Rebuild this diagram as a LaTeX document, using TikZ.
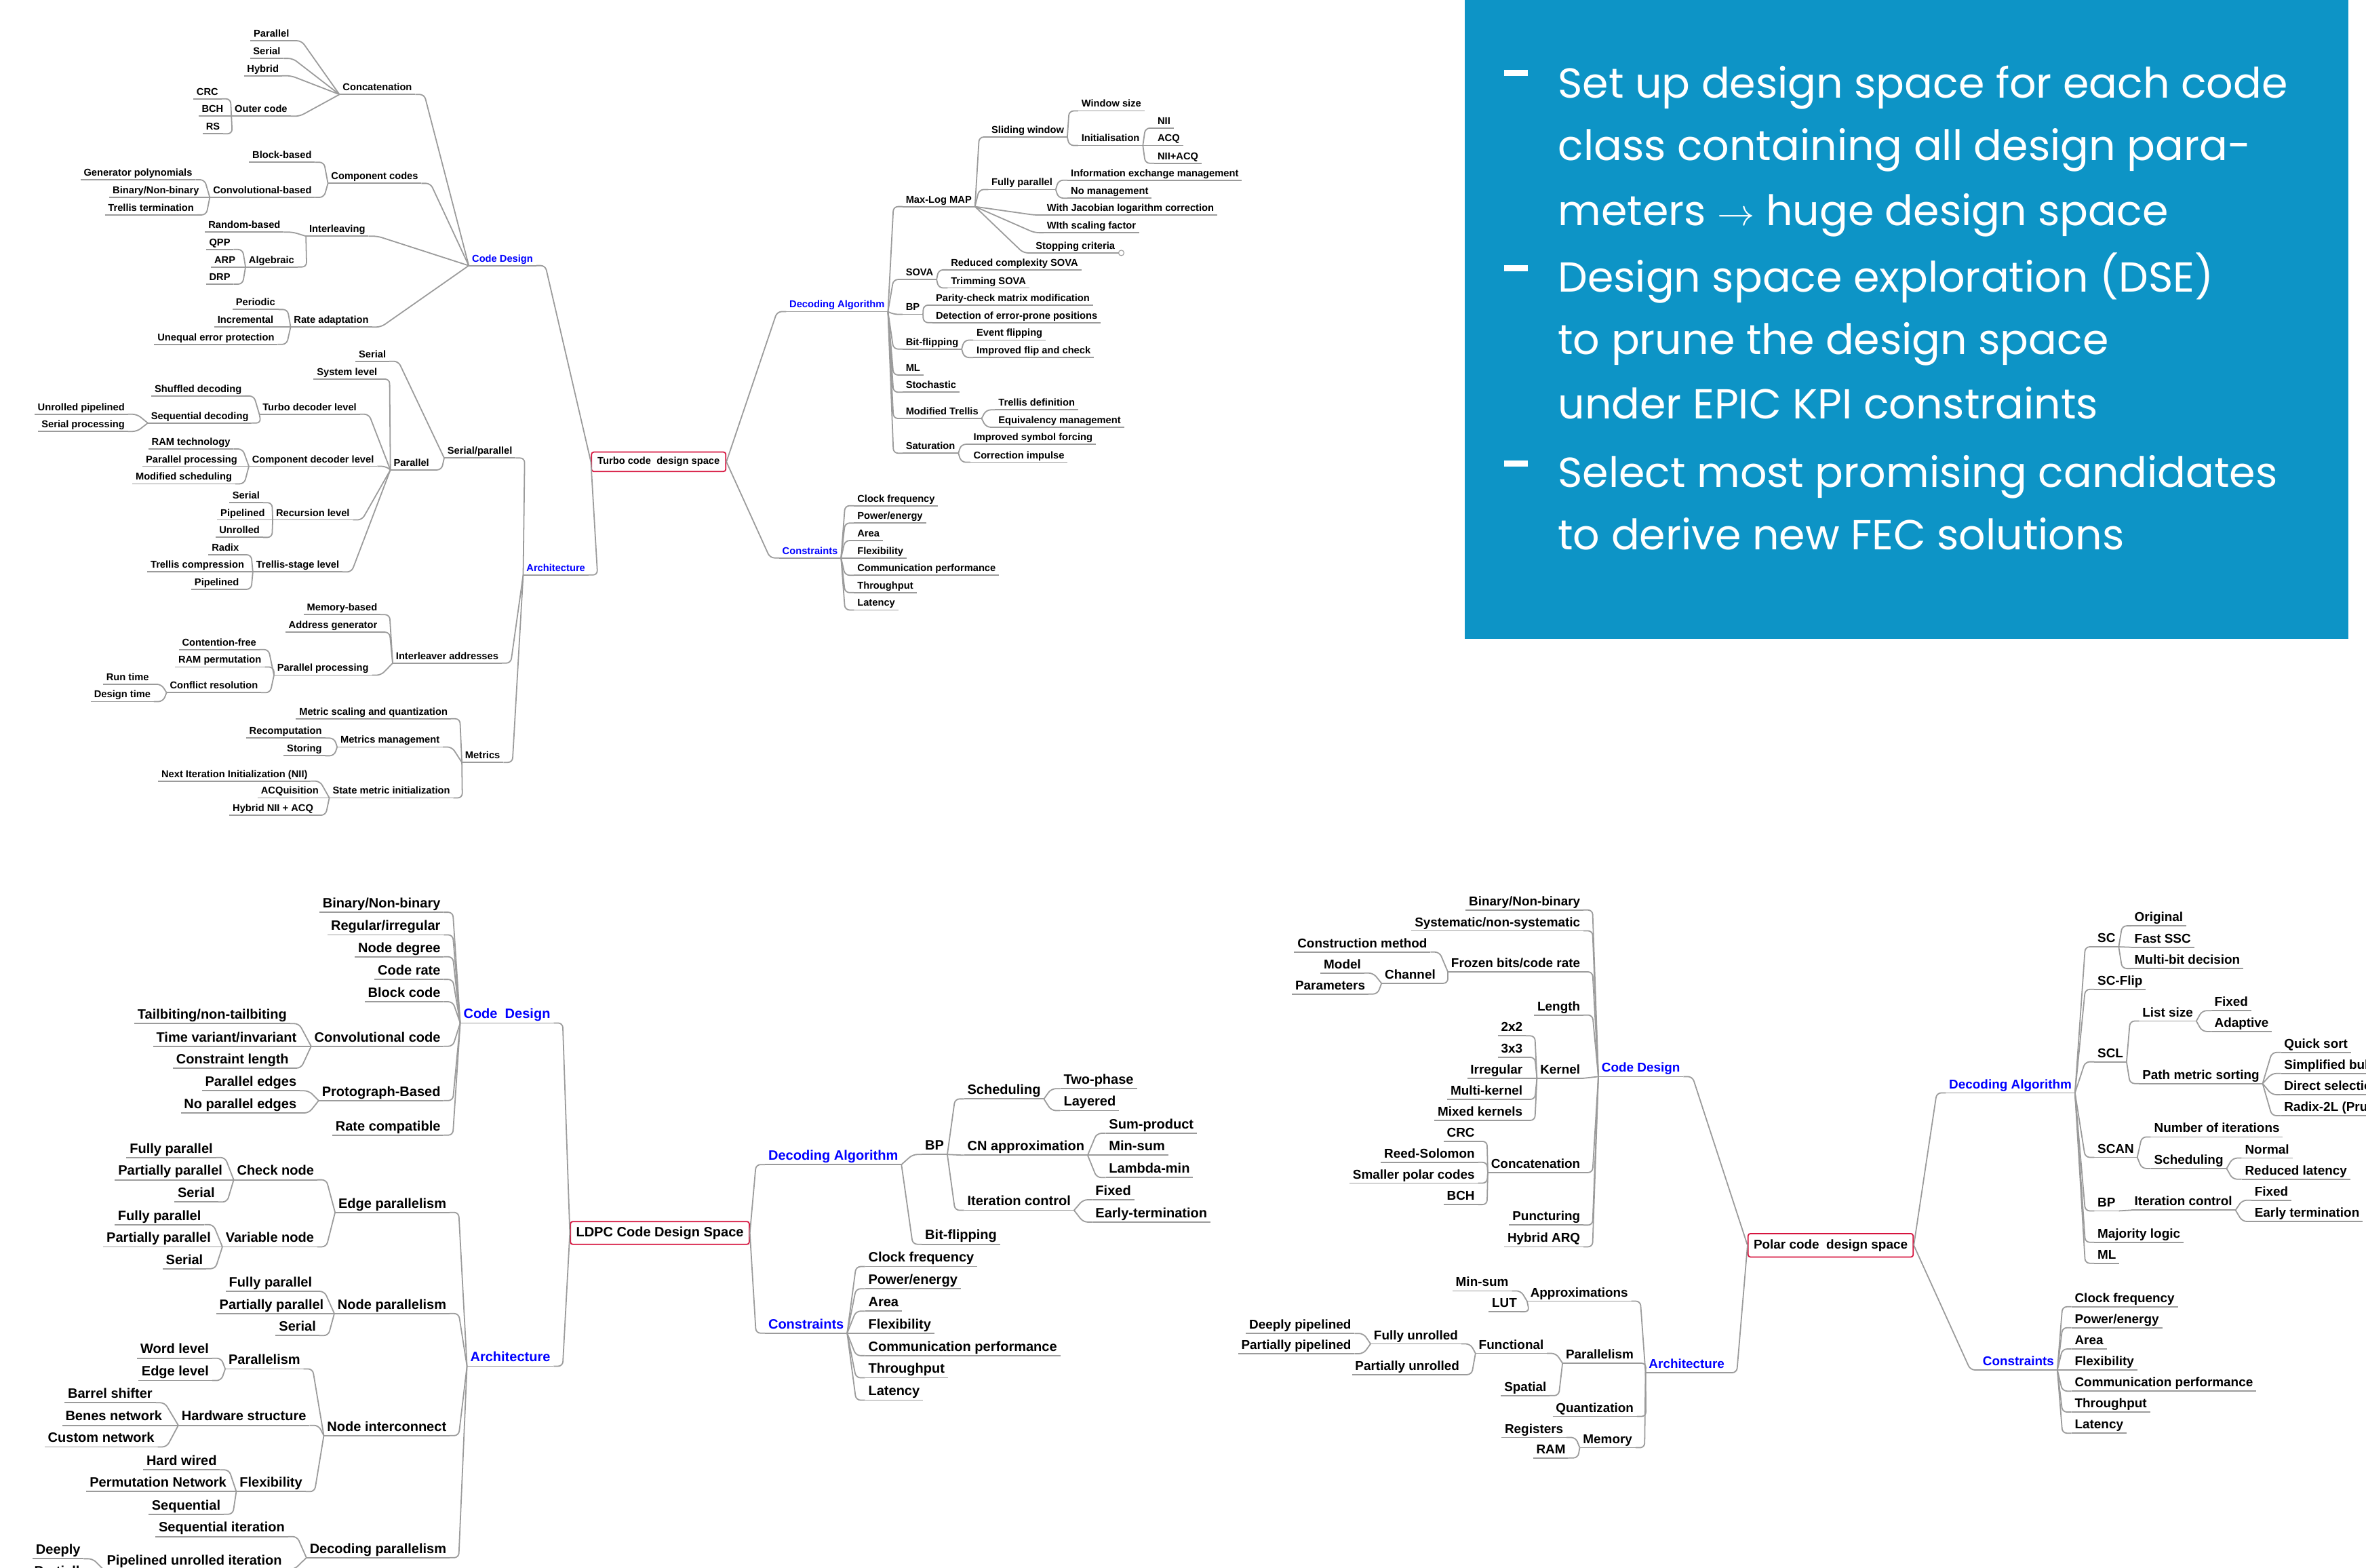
\documentclass[tikz,border=0pt]{standalone}
\usepackage{fontspec}
\setmainfont{Liberation Sans}
\newfontfamily\boxfont{Poppins}
\usetikzlibrary{positioning,calc}
\definecolor{linegray}{RGB}{155,155,155}
\definecolor{rootred}{RGB}{214,20,62}
\definecolor{catblue}{RGB}{0,0,255}
\definecolor{boxblue}{RGB}{13,148,198}

\begin{document}
\begin{tikzpicture}[x=1pt, y=-1pt,
  mm/.style={inner xsep=2pt, inner ysep=0.8pt, append after command={(\tikzlastnode.south west) edge[uline] (\tikzlastnode.south east)}},
  uline/.style={draw=linegray, line width=0.8pt},
  tf/.style={font=\bfseries\fontsize{6.6}{7}\selectfont},
  lf/.style={font=\bfseries\fontsize{9}{10}\selectfont},
  pf/.style={font=\bfseries\fontsize{8.5}{9.5}\selectfont},
  tt/.style={mm, tf, text height=4.8pt, text depth=1.5pt},
  ll/.style={mm, lf, text height=6.6pt, text depth=2pt},
  pp/.style={mm, pf, text height=6.2pt, text depth=1.9pt},
  lt/.style={anchor=south east},
  rt/.style={anchor=south west},
  cat/.style={text=catblue},
  root/.style={draw=rootred, fill=white, rounded corners=1.5pt, line width=0.8pt, inner xsep=2pt},
  lb/.style={draw=linegray, line width=0.8pt, rounded corners=3pt, to path={-- ($(\tikztotarget)+(6pt,0)$) -- (\tikztotarget)}},
  rb/.style={draw=linegray, line width=0.8pt, rounded corners=3pt, to path={-- ($(\tikztotarget)+(-6pt,0)$) -- (\tikztotarget)}},
  sl/.style={draw=linegray, line width=0.8pt},
  boxtxt/.style={text=white, inner sep=0pt, anchor=base west, font=\boxfont\fontsize{27.8}{33}\selectfont},
]
\useasboundingbox (0,0) rectangle (1568,1039);

% Turbo code design space
\node[root, tf, minimum width=89pt, minimum height=12pt] (tr) at (436.5,306) {Turbo code\ \ design space};
\node[tt, lt, cat] (tcd) at (355.4,176) {Code Design};
\node[tt, lt, cat] (tar) at (390,381) {Architecture};
\node[tt, rt, cat] (tda) at (521,206.5) {Decoding Algorithm};
\node[tt, rt, cat] (tco) at (516.3,369.7) {Constraints};

% Turbo: code design
\node[tt, lt] (tconc) at (275.2,62.6) {Concatenation};
\node[tt, lt] (tpar) at (193.8,27) {Parallel};
\node[tt, lt] (tser) at (188,38.7) {Serial};
\node[tt, lt] (thyb) at (186.9,50.2) {Hybrid};
\node[tt, lt] (tout) at (192.6,77) {Outer code};
\node[tt, lt] (tcrc) at (146.8,65.5) {CRC};
\node[tt, lt] (tbch) at (150.2,77) {BCH};
\node[tt, lt] (trs) at (147.9,88.6) {RS};
\node[tt, lt] (tcomp) at (279.3,121.5) {Component codes};
\node[tt, lt] (tblk) at (208.7,107.5) {Block-based};
\node[tt, lt] (tconv) at (208.7,130.8) {Convolutional-based};
\node[tt, lt] (tgen) at (129.6,119.1) {Generator polynomials};
\node[tt, lt] (tbin) at (134.1,130.8) {Binary/Non-binary};
\node[tt, lt] (tterm) at (130.7,142.4) {Trellis termination};
\node[tt, lt] (tint) at (244.2,156.5) {Interleaving};
\node[tt, lt] (trand) at (188,153.8) {Random-based};
\node[tt, lt] (talg) at (197.2,176.9) {Algebraic};
\node[tt, lt] (tqpp) at (154.8,165.3) {QPP};
\node[tt, lt] (tarp) at (158.2,176.9) {ARP};
\node[tt, lt] (tdrp) at (154.8,188.3) {DRP};
\node[tt, lt] (trate) at (246.5,216.7) {Rate adaptation};
\node[tt, lt] (tper) at (184.6,205.1) {Periodic};
\node[tt, lt] (tinc) at (183.4,216.7) {Incremental};
\node[tt, lt] (tuep) at (184,228.2) {Unequal error protection};

% Turbo: architecture
\node[tt, lt] (tsp) at (341.7,303.5) {Serial/parallel};
\node[tt, lt] (tser2) at (258,239.4) {Serial};
\node[tt, lt] (tpar2) at (286.6,311.4) {Parallel};
\node[tt, lt] (tsys) at (252.2,251.2) {System level};
\node[tt, lt] (ttdl) at (238.5,274.5) {Turbo decoder level};
\node[tt, lt] (tshf) at (162.3,262.4) {Shuffled decoding};
\node[tt, lt] (tseq) at (166.9,280.3) {Sequential decoding};
\node[tt, lt] (tunr) at (84.8,274.5) {Unrolled pipelined};
\node[tt, lt] (tserp) at (84.8,285.9) {Serial processing};
\node[tt, lt] (tcdl) at (250,309) {Component decoder level};
\node[tt, lt] (tram) at (154.8,297.5) {RAM technology};
\node[tt, lt] (tpp) at (159.4,309) {Parallel processing};
\node[tt, lt] (tmod) at (155.9,320.6) {Modified scheduling};
\node[tt, lt] (trec) at (233.9,344.5) {Recursion level};
\node[tt, lt] (trs1) at (174.3,333.1) {Serial};
\node[tt, lt] (trp1) at (177.7,344.5) {Pipelined};
\node[tt, lt] (tru1) at (174.3,356.1) {Unrolled};
\node[tt, lt] (ttsl) at (227,379) {Trellis-stage level};
\node[tt, lt] (trad) at (160.5,367.6) {Radix};
\node[tt, lt] (ttc) at (164,379) {Trellis compression};
\node[tt, lt] (tpip) at (160.5,390.5) {Pipelined};
\node[tt, lt] (tia) at (332.5,439.4) {Interleaver addresses};
\node[tt, lt] (tmem) at (252.2,407.3) {Memory-based};
\node[tt, lt] (tadr) at (252.2,418.9) {Address generator};
\node[tt, lt] (tppr) at (246.5,447.4) {Parallel processing};
\node[tt, lt] (tcf) at (172,430.4) {Contention-free};
\node[tt, lt] (tramp) at (175.4,442) {RAM permutation};
\node[tt, lt] (tcr) at (173.1,459) {Conflict resolution};
\node[tt, lt] (trun) at (100.9,453.4) {Run time};
\node[tt, lt] (tdes) at (102,464.9) {Design time};
\node[tt, lt] (tmet) at (333.6,505.2) {Metrics};
\node[tt, lt] (tmsq) at (298.8,476.3) {Metric scaling and quantization};
\node[tt, lt] (tmm) at (293.5,495) {Metrics management};
\node[tt, lt] (trecp) at (215.5,489.1) {Recomputation};
\node[tt, lt] (tsto) at (215.5,500.8) {Storing};
\node[tt, lt] (tsmi) at (300.4,528.7) {State metric initialization};
\node[tt, lt] (tnii) at (206,517.6) {Next Iteration Initialization (NII)};
\node[tt, lt] (tacq) at (213.3,528.7) {ACQuisition};
\node[tt, lt] (thna) at (209.8,540.2) {Hybrid NII + ACQ};

% Turbo: decoding algorithm
\node[tt, rt] (tml) at (598.1,136.9) {Max-Log MAP};
\node[tt, rt] (tsw) at (654.9,90.8) {Sliding window};
\node[tt, rt] (twin) at (714.5,73.5) {Window size};
\node[tt, rt] (tini) at (714.5,96.4) {Initialisation};
\node[tt, rt] (tnii2) at (765,84.9) {NII};
\node[tt, rt] (tacq2) at (765,96.4) {ACQ};
\node[tt, rt] (tna) at (765,108.2) {NII+ACQ};
\node[tt, rt] (tfp) at (654.9,125.6) {Fully parallel};
\node[tt, rt] (tiem) at (707.5,119.4) {Information exchange management};
\node[tt, rt] (tnom) at (707.5,131.3) {No management};
\node[tt, rt] (tjac) at (691.6,142.5) {With Jacobian logarithm correction};
\node[tt, rt] (tsf) at (691.6,154.2) {WIth scaling factor};
\node[tt, rt] (tstop) at (684.2,167.6) {Stopping criteria};
\node[circle, draw=linegray, line width=0.5pt, inner sep=0pt, minimum size=3.6pt, anchor=west] (tstopm) at (tstop.south east) {};
\node[tt, rt] (tsova) at (598.1,185.2) {SOVA};
\node[tt, rt] (trcs) at (628,178.8) {Reduced complexity SOVA};
\node[tt, rt] (ttrim) at (628,190.8) {Trimming SOVA};
\node[tt, rt] (tbp) at (598.1,208.3) {BP};
\node[tt, rt] (tpcm) at (618,202.2) {Parity-check matrix modification};
\node[tt, rt] (tdet) at (618,213.8) {Detection of error-prone positions};
\node[tt, rt] (tbf) at (598.1,231.3) {Bit-flipping};
\node[tt, rt] (tevt) at (645,225.4) {Event flipping};
\node[tt, rt] (tifc) at (645,236.9) {Improved flip and check};
\node[tt, rt] (tmlx) at (598.1,248.5) {ML};
\node[tt, rt] (tsto2) at (598.1,259.9) {Stochastic};
\node[tt, rt] (tmt) at (598.1,277.3) {Modified Trellis};
\node[tt, rt] (ttd) at (659.5,271.6) {Trellis definition};
\node[tt, rt] (teq) at (659.5,283.1) {Equivalency management};
\node[tt, rt] (tsat) at (598.1,300.3) {Saturation};
\node[tt, rt] (tisf) at (643,294.4) {Improved symbol forcing};
\node[tt, rt] (tci) at (643,306.3) {Correction impulse};

% Turbo: constraints
\node[tt, rt] (tc1) at (566,335.1) {Clock frequency};
\node[tt, rt] (tc2) at (566,346.6) {Power/energy};
\node[tt, rt] (tc3) at (566,358.2) {Area};
\node[tt, rt] (tc4) at (566,369.7) {Flexibility};
\node[tt, rt] (tc5) at (566,381.2) {Communication performance};
\node[tt, rt] (tc6) at (566,392.7) {Throughput};
\node[tt, rt] (tc7) at (566,404.2) {Latency};

% Turbo connections
\path (tr.west) edge[lb] (tcd.south east) edge[lb] (tar.south east);
\path (tr.east) edge[rb] (tda.south west) edge[rb] (tco.south west);
\path (tcd.south west) edge[lb] (tconc.south east) edge[lb] (tcomp.south east) edge[lb] (tint.south east) edge[lb] (trate.south east);
\path (tconc.south west) edge[lb] (tpar.south east) edge[lb] (tser.south east) edge[lb] (thyb.south east) edge[lb] (tout.south east);
\path (tout.south west) edge[lb] (tcrc.south east) edge[sl] (tbch.south east) edge[lb] (trs.south east);
\path (tcomp.south west) edge[lb] (tblk.south east) edge[lb] (tconv.south east);
\path (tconv.south west) edge[lb] (tgen.south east) edge[sl] (tbin.south east) edge[lb] (tterm.south east);
\path (tint.south west) edge[lb] (trand.south east) edge[lb] (talg.south east);
\path (talg.south west) edge[lb] (tqpp.south east) edge[sl] (tarp.south east) edge[lb] (tdrp.south east);
\path (trate.south west) edge[lb] (tper.south east) edge[sl] (tinc.south east) edge[lb] (tuep.south east);
\path (tar.south west) edge[lb] (tsp.south east) edge[lb] (tia.south east) edge[lb] (tmet.south east);
\path (tsp.south west) edge[lb] (tser2.south east) edge[lb] (tpar2.south east);
\path (tpar2.south west) edge[lb] (tsys.south east) edge[lb] (ttdl.south east) edge[lb] (tcdl.south east) edge[lb] (trec.south east) edge[lb] (ttsl.south east);
\path (ttdl.south west) edge[lb] (tshf.south east) edge[lb] (tseq.south east);
\path (tseq.south west) edge[lb] (tunr.south east) edge[lb] (tserp.south east);
\path (tcdl.south west) edge[lb] (tram.south east) edge[sl] (tpp.south east) edge[lb] (tmod.south east);
\path (trec.south west) edge[lb] (trs1.south east) edge[sl] (trp1.south east) edge[lb] (tru1.south east);
\path (ttsl.south west) edge[lb] (trad.south east) edge[sl] (ttc.south east) edge[lb] (tpip.south east);
\path (tia.south west) edge[lb] (tmem.south east) edge[lb] (tadr.south east) edge[lb] (tppr.south east);
\path (tppr.south west) edge[lb] (tcf.south east) edge[lb] (tramp.south east) edge[lb] (tcr.south east);
\path (tcr.south west) edge[lb] (trun.south east) edge[lb] (tdes.south east);
\path (tmet.south west) edge[lb] (tmsq.south east) edge[lb] (tmm.south east) edge[lb] (tsmi.south east);
\path (tmm.south west) edge[lb] (trecp.south east) edge[lb] (tsto.south east);
\path (tsmi.south west) edge[lb] (tnii.south east) edge[sl] (tacq.south east) edge[lb] (thna.south east);
\path (tda.south east) edge[rb] (tml.south west) edge[rb] (tsova.south west) edge[rb] (tbp.south west) edge[rb] (tbf.south west) edge[rb] (tmlx.south west) edge[rb] (tsto2.south west) edge[rb] (tmt.south west) edge[rb] (tsat.south west);
\path (tml.south east) edge[rb] (tsw.south west) edge[rb] (tfp.south west) edge[rb] (tjac.south west) edge[rb] (tsf.south west) edge[rb] (tstop.south west);
\path (tsw.south east) edge[rb] (twin.south west) edge[rb] (tini.south west);
\path (tini.south east) edge[rb] (tnii2.south west) edge[sl] (tacq2.south west) edge[rb] (tna.south west);
\path (tfp.south east) edge[rb] (tiem.south west) edge[rb] (tnom.south west);
\path (tsova.south east) edge[rb] (trcs.south west) edge[rb] (ttrim.south west);
\path (tbp.south east) edge[rb] (tpcm.south west) edge[rb] (tdet.south west);
\path (tbf.south east) edge[rb] (tevt.south west) edge[rb] (tifc.south west);
\path (tmt.south east) edge[rb] (ttd.south west) edge[rb] (teq.south west);
\path (tsat.south east) edge[rb] (tisf.south west) edge[rb] (tci.south west);
\path (tco.south east) edge[rb] (tc1.south west) edge[rb] (tc2.south west) edge[rb] (tc3.south west) edge[sl] (tc4.south west) edge[rb] (tc5.south west) edge[rb] (tc6.south west) edge[rb] (tc7.south west);

% LDPC code design space
\node[root, lf, minimum width=118.5pt, minimum height=15pt] (lr) at (437.3,817) {LDPC Code Design Space};
\node[ll, lt, cat] (lcd) at (366.9,677.9) {Code\ \ Design};
\node[ll, lt, cat] (lar) at (366.9,905.3) {Architecture};
\node[ll, rt, cat] (lda) at (507,771.7) {Decoding Algorithm};
\node[ll, rt, cat] (lco) at (507,883.4) {Constraints};

% LDPC: code design
\node[ll, lt] (lbn) at (294.1,604.5) {Binary/Non-binary};
\node[ll, lt] (lri) at (294.1,619.5) {Regular/irregular};
\node[ll, lt] (lnd) at (294.1,634) {Node degree};
\node[ll, lt] (lcr) at (294.1,649) {Code rate};
\node[ll, lt] (lbc) at (294.1,663.8) {Block code};
\node[ll, lt] (lcc) at (294.1,693.3) {Convolutional code};
\node[ll, lt] (ltb) at (192.2,678.3) {Tailbiting/non-tailbiting};
\node[ll, lt] (ltv) at (198.7,693.3) {Time variant/invariant};
\node[ll, lt] (lcl) at (193.5,707.8) {Constraint length};
\node[ll, lt] (lpb) at (294.1,729.3) {Protograph-Based};
\node[ll, lt] (lpe) at (198.7,722.8) {Parallel edges};
\node[ll, lt] (lnpe) at (198.7,737.5) {No parallel edges};
\node[ll, lt] (lrc) at (294.1,752.2) {Rate compatible};

% LDPC: architecture
\node[ll, lt] (lep) at (298,803.4) {Edge parallelism};
\node[ll, lt] (lchk) at (210.3,781.8) {Check node};
\node[ll, lt] (lfp1) at (143.2,767) {Fully parallel};
\node[ll, lt] (lpp1) at (149.6,781.8) {Partially parallel};
\node[ll, lt] (lse1) at (144.5,796.5) {Serial};
\node[ll, lt] (lvar) at (210.3,826.2) {Variable node};
\node[ll, lt] (lfp2) at (135.4,811.5) {Fully parallel};
\node[ll, lt] (lpp2) at (141.9,826.2) {Partially parallel};
\node[ll, lt] (lse2) at (136.7,840.7) {Serial};
\node[ll, lt] (lnp) at (298,870.4) {Node parallelism};
\node[ll, lt] (lfp3) at (209,855.7) {Fully parallel};
\node[ll, lt] (lpp3) at (216.7,870.4) {Partially parallel};
\node[ll, lt] (lse3) at (211.6,885) {Serial};
\node[ll, lt] (lni) at (298,951.3) {Node interconnect};
\node[ll, lt] (lpar) at (201.2,907.1) {Parallelism};
\node[ll, lt] (lwl) at (140.6,900) {Word level};
\node[ll, lt] (lel) at (140.6,914.8) {Edge level};
\node[ll, lt] (lhs) at (205.1,944.5) {Hardware structure};
\node[ll, lt] (lbs) at (103.2,929.5) {Barrel shifter};
\node[ll, lt] (lbnw) at (109.6,944.5) {Benes network};
\node[ll, lt] (lcn) at (104.5,958.8) {Custom network};
\node[ll, lt] (lflx) at (202.5,988.4) {Flexibility};
\node[ll, lt] (lhw) at (145.8,974) {Hard wired};
\node[ll, lt] (lpn) at (152.2,988.4) {Permutation Network};
\node[ll, lt] (lsq) at (148.3,1003.4) {Sequential};
\node[ll, lt] (ldp) at (298,1032.2) {Decoding parallelism};
\node[ll, lt] (lsi) at (190.9,1018.2) {Sequential iteration};
\node[ll, lt] (lpui) at (189,1040) {Pipelined unrolled iteration};
\node[ll, lt] (ldee) at (55.5,1032.9) {Deeply};
\node[ll, lt] (lpart) at (60,1047) {Partially};

% LDPC: decoding algorithm
\node[ll, rt] (lbp) at (610.9,765) {BP};
\node[ll, rt] (lsch) at (638.9,728.2) {Scheduling};
\node[ll, rt] (ltp) at (702.7,721.4) {Two-phase};
\node[ll, rt] (llay) at (702.7,735.9) {Layered};
\node[ll, rt] (lcna) at (638.9,765.5) {CN approximation};
\node[ll, rt] (lsp) at (732.8,751) {Sum-product};
\node[ll, rt] (lms) at (732.8,765.5) {Min-sum};
\node[ll, rt] (llm) at (732.8,780.3) {Lambda-min};
\node[ll, rt] (lic) at (638.9,802) {Iteration control};
\node[ll, rt] (lfix) at (723.8,795) {Fixed};
\node[ll, rt] (let) at (723.8,809.8) {Early-termination};
\node[ll, rt] (lbf) at (610.9,824.5) {Bit-flipping};

% LDPC: constraints
\node[ll, rt] (lc1) at (573.3,839.3) {Clock frequency};
\node[ll, rt] (lc2) at (573.3,854) {Power/energy};
\node[ll, rt] (lc3) at (573.3,868.8) {Area};
\node[ll, rt] (lc4) at (573.3,883.4) {Flexibility};
\node[ll, rt] (lc5) at (573.3,898.3) {Communication performance};
\node[ll, rt] (lc6) at (573.3,913) {Throughput};
\node[ll, rt] (lc7) at (573.3,927.8) {Latency};

% LDPC connections
\path (lr.west) edge[lb] (lcd.south east) edge[lb] (lar.south east);
\path (lr.east) edge[rb] (lda.south west) edge[rb] (lco.south west);
\path (lcd.south west) edge[lb] (lbn.south east) edge[lb] (lri.south east) edge[lb] (lnd.south east) edge[lb] (lcr.south east) edge[lb] (lbc.south east) edge[lb] (lcc.south east) edge[lb] (lpb.south east) edge[lb] (lrc.south east);
\path (lcc.south west) edge[lb] (ltb.south east) edge[sl] (ltv.south east) edge[lb] (lcl.south east);
\path (lpb.south west) edge[lb] (lpe.south east) edge[lb] (lnpe.south east);
\path (lar.south west) edge[lb] (lep.south east) edge[lb] (lnp.south east) edge[lb] (lni.south east) edge[lb] (ldp.south east);
\path (lep.south west) edge[lb] (lchk.south east) edge[lb] (lvar.south east);
\path (lchk.south west) edge[lb] (lfp1.south east) edge[sl] (lpp1.south east) edge[lb] (lse1.south east);
\path (lvar.south west) edge[lb] (lfp2.south east) edge[sl] (lpp2.south east) edge[lb] (lse2.south east);
\path (lnp.south west) edge[lb] (lfp3.south east) edge[sl] (lpp3.south east) edge[lb] (lse3.south east);
\path (lni.south west) edge[lb] (lpar.south east) edge[lb] (lhs.south east) edge[lb] (lflx.south east);
\path (lpar.south west) edge[lb] (lwl.south east) edge[lb] (lel.south east);
\path (lhs.south west) edge[lb] (lbs.south east) edge[sl] (lbnw.south east) edge[lb] (lcn.south east);
\path (lflx.south west) edge[lb] (lhw.south east) edge[sl] (lpn.south east) edge[lb] (lsq.south east);
\path (ldp.south west) edge[lb] (lsi.south east) edge[lb] (lpui.south east);
\path (lpui.south west) edge[lb] (ldee.south east) edge[lb] (lpart.south east);
\path (lda.south east) edge[rb] (lbp.south west) edge[rb] (lbf.south west);
\path (lbp.south east) edge[rb] (lsch.south west) edge[sl] (lcna.south west) edge[rb] (lic.south west);
\path (lsch.south east) edge[rb] (ltp.south west) edge[rb] (llay.south west);
\path (lcna.south east) edge[rb] (lsp.south west) edge[sl] (lms.south west) edge[rb] (llm.south west);
\path (lic.south east) edge[rb] (lfix.south west) edge[rb] (let.south west);
\path (lco.south east) edge[rb] (lc1.south west) edge[rb] (lc2.south west) edge[rb] (lc3.south west) edge[sl] (lc4.south west) edge[rb] (lc5.south west) edge[rb] (lc6.south west) edge[rb] (lc7.south west);

% Polar code design space
\node[root, pf, minimum width=109.4pt, minimum height=15.5pt] (pr) at (1213.2,825.2) {Polar code\ \ design space};
\node[pp, lt, cat] (pcd) at (1115.6,713.4) {Code Design};
\node[pp, lt, cat] (par) at (1145,909.6) {Architecture};
\node[pp, rt, cat] (pda) at (1289.5,724.2) {Decoding Algorithm};
\node[pp, rt, cat] (pco) at (1311.8,907.8) {Constraints};

% Polar: code design
\node[pp, lt] (pbn) at (1049.4,603) {Binary/Non-binary};
\node[pp, lt] (psy) at (1049.4,616.8) {Systematic/non-systematic};
\node[pp, lt] (pfz) at (1049.4,644) {Frozen bits/code rate};
\node[pp, lt] (pcm) at (948,630.9) {Construction method};
\node[pp, lt] (pch) at (953.5,651.6) {Channel};
\node[pp, lt] (pmo) at (904.1,644.8) {Model};
\node[pp, lt] (ppa) at (906.9,658.7) {Parameters};
\node[pp, lt] (plen) at (1049.4,672.6) {Length};
\node[pp, lt] (pker) at (1049.4,714.5) {Kernel};
\node[pp, lt] (p22) at (1011.2,686.4) {2x2};
\node[pp, lt] (p33) at (1011.2,700.6) {3x3};
\node[pp, lt] (pirr) at (1011.2,714.5) {Irregular};
\node[pp, lt] (pmk) at (1011.2,728.5) {Multi-kernel};
\node[pp, lt] (pmx) at (1011.2,742.4) {Mixed kernels};
\node[pp, lt] (pcon) at (1049.4,777) {Concatenation};
\node[pp, lt] (pcrc) at (979.5,756.3) {CRC};
\node[pp, lt] (prs) at (979.5,770.2) {Reed-Solomon};
\node[pp, lt] (pspc) at (979.5,784) {Smaller polar codes};
\node[pp, lt] (pbch) at (979.5,798.2) {BCH};
\node[pp, lt] (ppun) at (1049.4,811.8) {Puncturing};
\node[pp, lt] (pha) at (1049.4,826.2) {Hybrid ARQ};

% Polar: architecture
\node[pp, lt] (papp) at (1081.1,862.2) {Approximations};
\node[pp, lt] (pmin) at (1001.9,855.4) {Min-sum};
\node[pp, lt] (plut) at (1007.5,869.2) {LUT};
\node[pp, lt] (ppar) at (1084.8,903.3) {Parallelism};
\node[pp, lt] (pfun) at (1025.2,896.8) {Functional};
\node[pp, lt] (pfu) at (968.4,890.5) {Fully unrolled};
\node[pp, lt] (pdp) at (897.6,883.6) {Deeply pipelined};
\node[pp, lt] (ppp) at (897.6,897) {Partially pipelined};
\node[pp, lt] (ppu) at (969.3,910.9) {Partially unrolled};
\node[pp, lt] (pspa) at (1027,924.8) {Spatial};
\node[pp, lt] (pqua) at (1084.8,938.6) {Quantization};
\node[pp, lt] (pmem) at (1083.9,959.3) {Memory};
\node[pp, lt] (preg) at (1038.2,952.5) {Registers};
\node[pp, lt] (pram) at (1039.7,966.1) {RAM};

% Polar: decoding algorithm
\node[pp, rt] (psc) at (1387.9,627.4) {SC};
\node[pp, rt] (porig) at (1412.4,613.5) {Original};
\node[pp, rt] (pfss) at (1412.4,627.7) {Fast SSC};
\node[pp, rt] (pmbd) at (1412.4,641.8) {Multi-bit decision};
\node[pp, rt] (pscf) at (1387.9,655.6) {SC-Flip};
\node[pp, rt] (pscl) at (1387.9,703.6) {SCL};
\node[pp, rt] (pls) at (1417.6,676.6) {List size};
\node[pp, rt] (pfx1) at (1465.4,669.7) {Fixed};
\node[pp, rt] (pad) at (1465.4,683.5) {Adaptive};
\node[pp, rt] (ppms) at (1417.6,718) {Path metric sorting};
\node[pp, rt] (pqs) at (1511.6,697.4) {Quick sort};
\node[pp, rt] (psbs) at (1511.6,711.3) {Simplified bubble sort};
\node[pp, rt] (pds) at (1511.6,725.4) {Direct selection};
\node[pp, rt] (prad) at (1511.6,739.3) {Radix-2L (Pruned)};
\node[pp, rt] (pscan) at (1387.9,766.9) {SCAN};
\node[pp, rt] (pnoi) at (1425.4,753.4) {Number of iterations};
\node[pp, rt] (psch) at (1425.4,774.3) {Scheduling};
\node[pp, rt] (pnor) at (1485.6,767.4) {Normal};
\node[pp, rt] (prl) at (1485.6,781.4) {Reduced latency};
\node[pp, rt] (pbp) at (1387.9,802.4) {BP};
\node[pp, rt] (pic) at (1412.4,801.9) {Iteration control};
\node[pp, rt] (pfx2) at (1492,795.3) {Fixed};
\node[pp, rt] (pet) at (1492,809.4) {Early termination};
\node[pp, rt] (pmaj) at (1387.9,823.2) {Majority logic};
\node[pp, rt] (pmlx) at (1387.9,837.1) {ML};

% Polar: constraints
\node[pp, rt] (pc1) at (1372.8,865.9) {Clock frequency};
\node[pp, rt] (pc2) at (1372.8,879.8) {Power/energy};
\node[pp, rt] (pc3) at (1372.8,893.9) {Area};
\node[pp, rt] (pc4) at (1372.8,907.8) {Flexibility};
\node[pp, rt] (pc5) at (1372.8,921.8) {Communication performance};
\node[pp, rt] (pc6) at (1372.8,935.7) {Throughput};
\node[pp, rt] (pc7) at (1372.8,949.7) {Latency};

% Polar connections
\path (pr.west) edge[lb] (pcd.south east) edge[lb] (par.south east);
\path (pr.east) edge[rb] (pda.south west) edge[rb] (pco.south west);
\path (pcd.south west) edge[lb] (pbn.south east) edge[lb] (psy.south east) edge[lb] (pfz.south east) edge[lb] (plen.south east) edge[sl] (pker.south east) edge[lb] (pcon.south east) edge[lb] (ppun.south east) edge[lb] (pha.south east);
\path (pfz.south west) edge[lb] (pcm.south east) edge[lb] (pch.south east);
\path (pch.south west) edge[lb] (pmo.south east) edge[lb] (ppa.south east);
\path (pker.south west) edge[lb] (p22.south east) edge[lb] (p33.south east) edge[sl] (pirr.south east) edge[lb] (pmk.south east) edge[lb] (pmx.south east);
\path (pcon.south west) edge[lb] (pcrc.south east) edge[lb] (prs.south east) edge[lb] (pspc.south east) edge[lb] (pbch.south east);
\path (par.south west) edge[lb] (papp.south east) edge[lb] (ppar.south east) edge[lb] (pqua.south east) edge[lb] (pmem.south east);
\path (papp.south west) edge[lb] (pmin.south east) edge[lb] (plut.south east);
\path (ppar.south west) edge[lb] (pfun.south east) edge[lb] (pspa.south east);
\path (pfun.south west) edge[lb] (pfu.south east) edge[lb] (ppu.south east);
\path (pfu.south west) edge[lb] (pdp.south east) edge[lb] (ppp.south east);
\path (pmem.south west) edge[lb] (preg.south east) edge[lb] (pram.south east);
\path (pda.south east) edge[rb] (psc.south west) edge[rb] (pscf.south west) edge[rb] (pscl.south west) edge[rb] (pscan.south west) edge[rb] (pbp.south west) edge[rb] (pmaj.south west) edge[rb] (pmlx.south west);
\path (psc.south east) edge[rb] (porig.south west) edge[sl] (pfss.south west) edge[rb] (pmbd.south west);
\path (pscl.south east) edge[rb] (pls.south west) edge[rb] (ppms.south west);
\path (pls.south east) edge[rb] (pfx1.south west) edge[rb] (pad.south west);
\path (ppms.south east) edge[rb] (pqs.south west) edge[rb] (psbs.south west) edge[rb] (pds.south west) edge[rb] (prad.south west);
\path (pscan.south east) edge[rb] (pnoi.south west) edge[rb] (psch.south west);
\path (psch.south east) edge[rb] (pnor.south west) edge[rb] (prl.south west);
\path (pbp.south east) edge[sl] (pic.south west);
\path (pic.south east) edge[rb] (pfx2.south west) edge[rb] (pet.south west);
\path (pco.south east) edge[rb] (pc1.south west) edge[rb] (pc2.south west) edge[rb] (pc3.south west) edge[sl] (pc4.south west) edge[rb] (pc5.south west) edge[rb] (pc6.south west) edge[rb] (pc7.south west);

% Summary box
\fill[boxblue] (970.8,0) rectangle (1556.5,423.5);
\fill[white] (997,46.3) rectangle (1012.3,50.4);
\fill[white] (997,175.7) rectangle (1012.3,179.8);
\fill[white] (997,305) rectangle (1012.3,309.2);
\node[boxtxt] (b1) at (1032.3,64.8) {Set up design space for each code};
\node[boxtxt] (b2) at (1032.3,106.2) {class containing all design para-};
\node[boxtxt] (b3) at (1032.3,149.3) {meters $\rightarrow$ huge design space};
\node[boxtxt] (b4) at (1032.3,193.4) {Design space exploration (DSE)};
\node[boxtxt] (b5) at (1032.3,234.8) {to prune the design space};
\node[boxtxt] (b6) at (1032.3,277.3) {under EPIC KPI constraints};
\node[boxtxt] (b7) at (1032.3,322.8) {Select most promising candidates};
\node[boxtxt] (b8) at (1032.3,364.2) {to derive new FEC solutions};

\end{tikzpicture}
\end{document}
